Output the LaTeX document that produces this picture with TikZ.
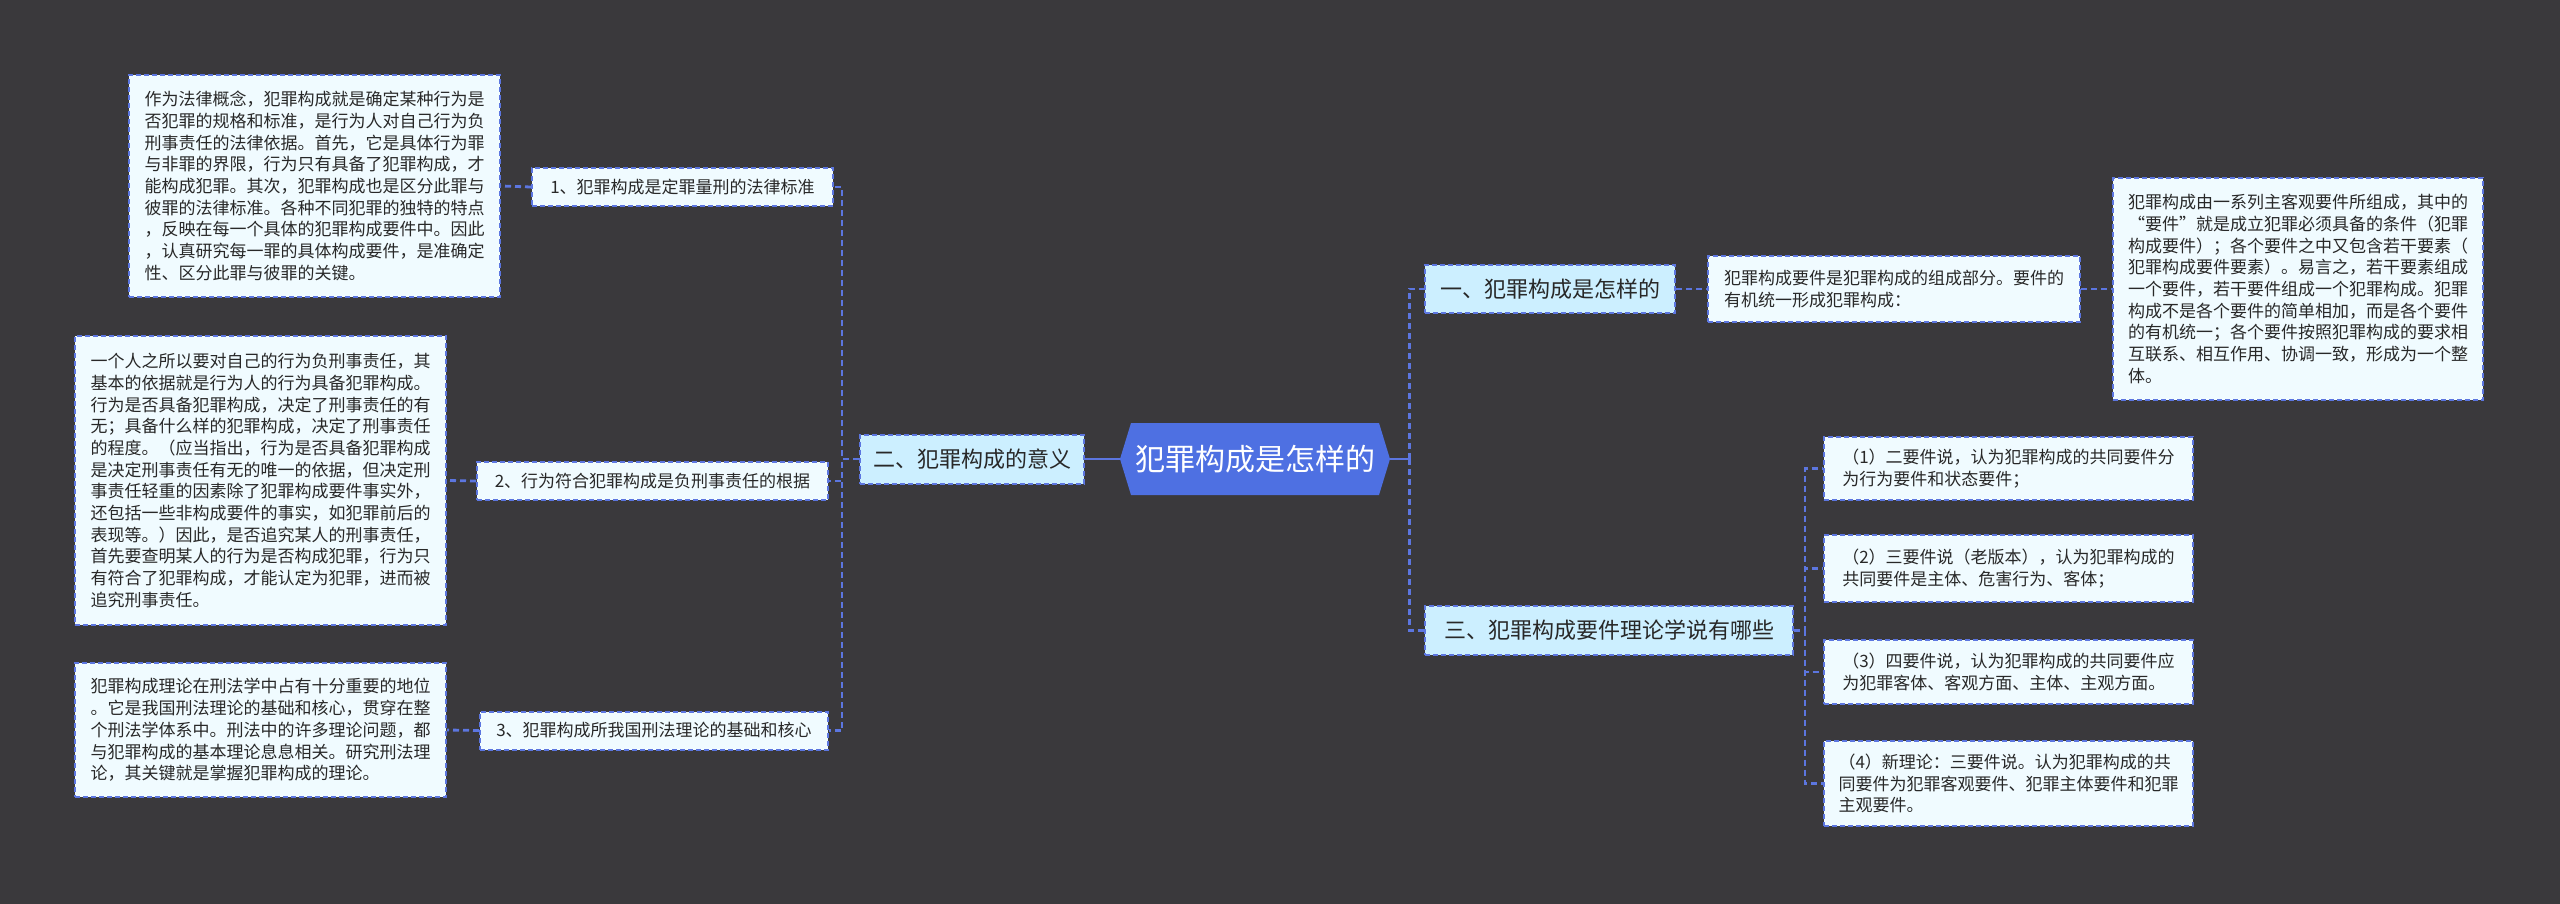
\documentclass[tikz,border=0pt]{standalone}
\usepackage{fontspec}
\setmainfont{Noto Sans CJK SC}
\usetikzlibrary{shapes.symbols}
\definecolor{bgdark}{RGB}{58,57,60}
\definecolor{rootblue}{RGB}{78,112,226}
\definecolor{linkblue}{RGB}{92,118,224}
\definecolor{topicfill}{RGB}{204,239,255}
\definecolor{notefill}{RGB}{240,251,255}
\definecolor{inkdark}{RGB}{40,40,40}

\begin{document}
\begin{tikzpicture}[
  x=1pt, y=-1pt,
  link/.style={draw=linkblue, line width=2.8pt, dash pattern=on 6pt off 4pt},
  rootlink/.style={draw=linkblue, line width=2.8pt},
  rootnode/.style={signal, signal to=east and west, signal pointer angle=146,
    fill=rootblue, text=white, font=\fontsize{30}{36}\selectfont,
    minimum width=270pt, minimum height=72pt, inner sep=0pt},
  topic/.style={fill=topicfill, draw=linkblue, line width=2pt, dash pattern=on 5pt off 3pt,
    text=inkdark, font=\fontsize{22}{26}\selectfont, inner sep=0pt, minimum height=49pt},
  sublab/.style={fill=notefill, draw=linkblue, line width=2pt, dash pattern=on 5pt off 3pt,
    text=inkdark, font=\fontsize{17}{21}\selectfont, inner sep=0pt, minimum height=38pt},
  note/.style={fill=notefill, draw=linkblue, line width=2pt, dash pattern=on 5pt off 3pt,
    text=inkdark, font=\fontsize{17}{21.7}\selectfont, align=left, inner sep=0pt, minimum width=371pt}
]
\fill[bgdark] (0,0) rectangle (2560,904);

% centre and main topics
\node[rootnode] (root) at (1255,459) {犯罪构成是怎样的};
\node[topic, minimum width=224pt] (yi2) at (972,459) {二、犯罪构成的意义};
\node[topic, minimum width=250pt, minimum height=48pt] (yi1) at (1550,289) {一、犯罪构成是怎样的};
\node[topic, minimum width=368pt] (yi3) at (1609,630.5) {三、犯罪构成要件理论学说有哪些};

% left side
\node[sublab, minimum width=301pt] (s1) at (682.5,187) {1、犯罪构成是定罪量刑的法律标准};
\node[sublab, minimum width=351pt] (s2) at (652.5,481) {2、行为符合犯罪构成是负刑事责任的根据};
\node[sublab, minimum width=348pt] (s3) at (654,730.5) {3、犯罪构成所我国刑法理论的基础和核心};

\node[note, minimum height=222pt] (n1) at (314.5,186) {作为法律概念，犯罪构成就是确定某种行为是\\
否犯罪的规格和标准，是行为人对自己行为负\\
刑事责任的法律依据。首先，它是具体行为罪\\
与非罪的界限，行为只有具备了犯罪构成，才\\
能构成犯罪。其次，犯罪构成也是区分此罪与\\
彼罪的法律标准。各种不同犯罪的独特的特点\\
，反映在每一个具体的犯罪构成要件中。因此\\
，认真研究每一罪的具体构成要件，是准确定\\
性、区分此罪与彼罪的关键。};
\node[note, minimum height=289pt] (n2) at (260.5,480.5) {一个人之所以要对自己的行为负刑事责任，其\\
基本的依据就是行为人的行为具备犯罪构成。\\
行为是否具备犯罪构成，决定了刑事责任的有\\
无；具备什么样的犯罪构成，决定了刑事责任\\
的程度。（应当指出，行为是否具备犯罪构成\\
是决定刑事责任有无的唯一的依据，但决定刑\\
事责任轻重的因素除了犯罪构成要件事实外，\\
还包括一些非构成要件的事实，如犯罪前后的\\
表现等。）因此，是否追究某人的刑事责任，\\
首先要查明某人的行为是否构成犯罪，行为只\\
有符合了犯罪构成，才能认定为犯罪，进而被\\
追究刑事责任。};
\node[note, minimum height=134pt] (n3) at (260.5,730) {犯罪构成理论在刑法学中占有十分重要的地位\\
。它是我国刑法理论的基础和核心，贯穿在整\\
个刑法学体系中。刑法中的许多理论问题，都\\
与犯罪构成的基本理论息息相关。研究刑法理\\
论，其关键就是掌握犯罪构成的理论。};

% right side
\node[note, minimum width=372pt, minimum height=66pt] (r1) at (1894,289) {犯罪构成要件是犯罪构成的组成部分。要件的\\
有机统一形成犯罪构成：};
\node[note, minimum width=370pt, minimum height=222pt] (r2) at (2298,289) {犯罪构成由一系列主客观要件所组成，其中的\\
“要件”就是成立犯罪必须具备的条件（犯罪\\
构成要件）；各个要件之中又包含若干要素（\\
犯罪构成要件要素）。易言之，若干要素组成\\
一个要件，若干要件组成一个犯罪构成。犯罪\\
构成不是各个要件的简单相加，而是各个要件\\
的有机统一；各个要件按照犯罪构成的要求相\\
互联系、相互作用、协调一致，形成为一个整\\
体。};

\node[note, minimum width=369pt, minimum height=63pt] (t1) at (2008.5,468.5) {（1）二要件说，认为犯罪构成的共同要件分\\
为行为要件和状态要件；};
\node[note, minimum width=369pt, minimum height=67pt] (t2) at (2008.5,568.5) {（2）三要件说（老版本），认为犯罪构成的\\
共同要件是主体、危害行为、客体；};
\node[note, minimum width=369pt, minimum height=64pt] (t3) at (2008.5,672) {（3）四要件说，认为犯罪构成的共同要件应\\
为犯罪客体、客观方面、主体、主观方面。};
\node[note, minimum width=369pt, minimum height=85pt] (t4) at (2008.5,783.5) {（4）新理论：三要件说。认为犯罪构成的共\\
同要件为犯罪客观要件、犯罪主体要件和犯罪\\
主观要件。};

% connectors
\coordinate (rj) at ([xshift=19pt]root.east);
\draw[rootlink] (root.west) -- (yi2.east);
\draw[rootlink] (root.east) -- (rj);
\draw[link] (rj) |- (yi1.west);
\draw[link] (rj) |- (yi3.west);
\foreach \s in {s1,s2,s3}
  \draw[link] (yi2.west) -- ++(-17,0) |- (\s.east);
\draw[link] (s1.west) -- (n1.east);
\draw[link] (s2.west) -- (n2.east);
\draw[link] (s3.west) -- (n3.east);
\draw[link] (yi1.east) -- (r1.west);
\draw[link] (r1.east) -- (r2.west);
\foreach \t in {t1,t2,t3,t4}
  \draw[link] (yi3.east) -- ++(11,0) |- (\t.west);
\end{tikzpicture}
\end{document}
